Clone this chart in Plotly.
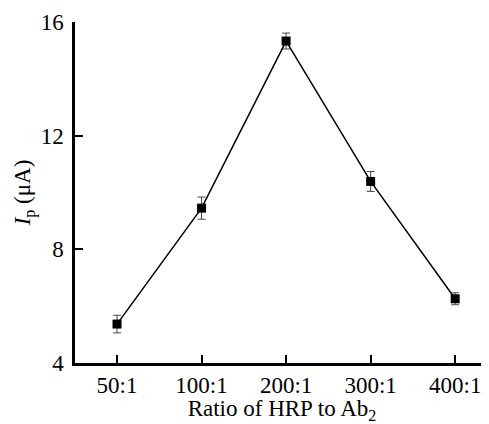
import plotly.graph_objects as go

categories = ["50:1", "100:1", "200:1", "300:1", "400:1"]
ip_values = [5.37, 9.45, 15.33, 10.39, 6.26]
ip_errors = [0.31, 0.39, 0.28, 0.35, 0.21]
y_ticks = [4, 8, 12, 16]

xpos = list(range(len(categories)))

fig = go.Figure()
fig.add_trace(go.Scatter(
    x=xpos, y=ip_values,
    mode="lines+markers",
    line=dict(color="black", width=1.5),
    marker=dict(symbol="square", size=9, color="black"),
    error_y=dict(type="data", array=ip_errors, visible=True,
                 color="#444444", thickness=1, width=4),
    showlegend=False,
))

font_family = "Liberation Serif, Times New Roman, serif"
fig.update_layout(
    width=481, height=416,
    margin=dict(l=67, r=0, t=14, b=61),
    paper_bgcolor="white", plot_bgcolor="white",
    font=dict(family=font_family, size=23, color="black"),
    xaxis=dict(
        range=[-0.497, 4.4],
        tickvals=xpos, ticktext=categories,
        ticks="inside", ticklen=8, tickwidth=2, tickcolor="black",
        showline=True, linecolor="black", linewidth=2.5,
        showgrid=False, zeroline=False,
        tickfont=dict(size=23),
        title=dict(text="Ratio of HRP to Ab<sub>2</sub>", font=dict(size=23), standoff=4),
    ),
    yaxis=dict(
        range=[4, 16],
        tickvals=y_ticks,
        ticks="inside", ticklen=8, tickwidth=2, tickcolor="black",
        showline=True, linecolor="black", linewidth=2.5,
        showgrid=False, zeroline=False,
        tickfont=dict(size=23),
        ticklabelstandoff=4,
        title=dict(text="<i>I</i><sub>p</sub> (μA)", font=dict(size=23), standoff=4),
    ),
)

fig.write_html("out.html")
